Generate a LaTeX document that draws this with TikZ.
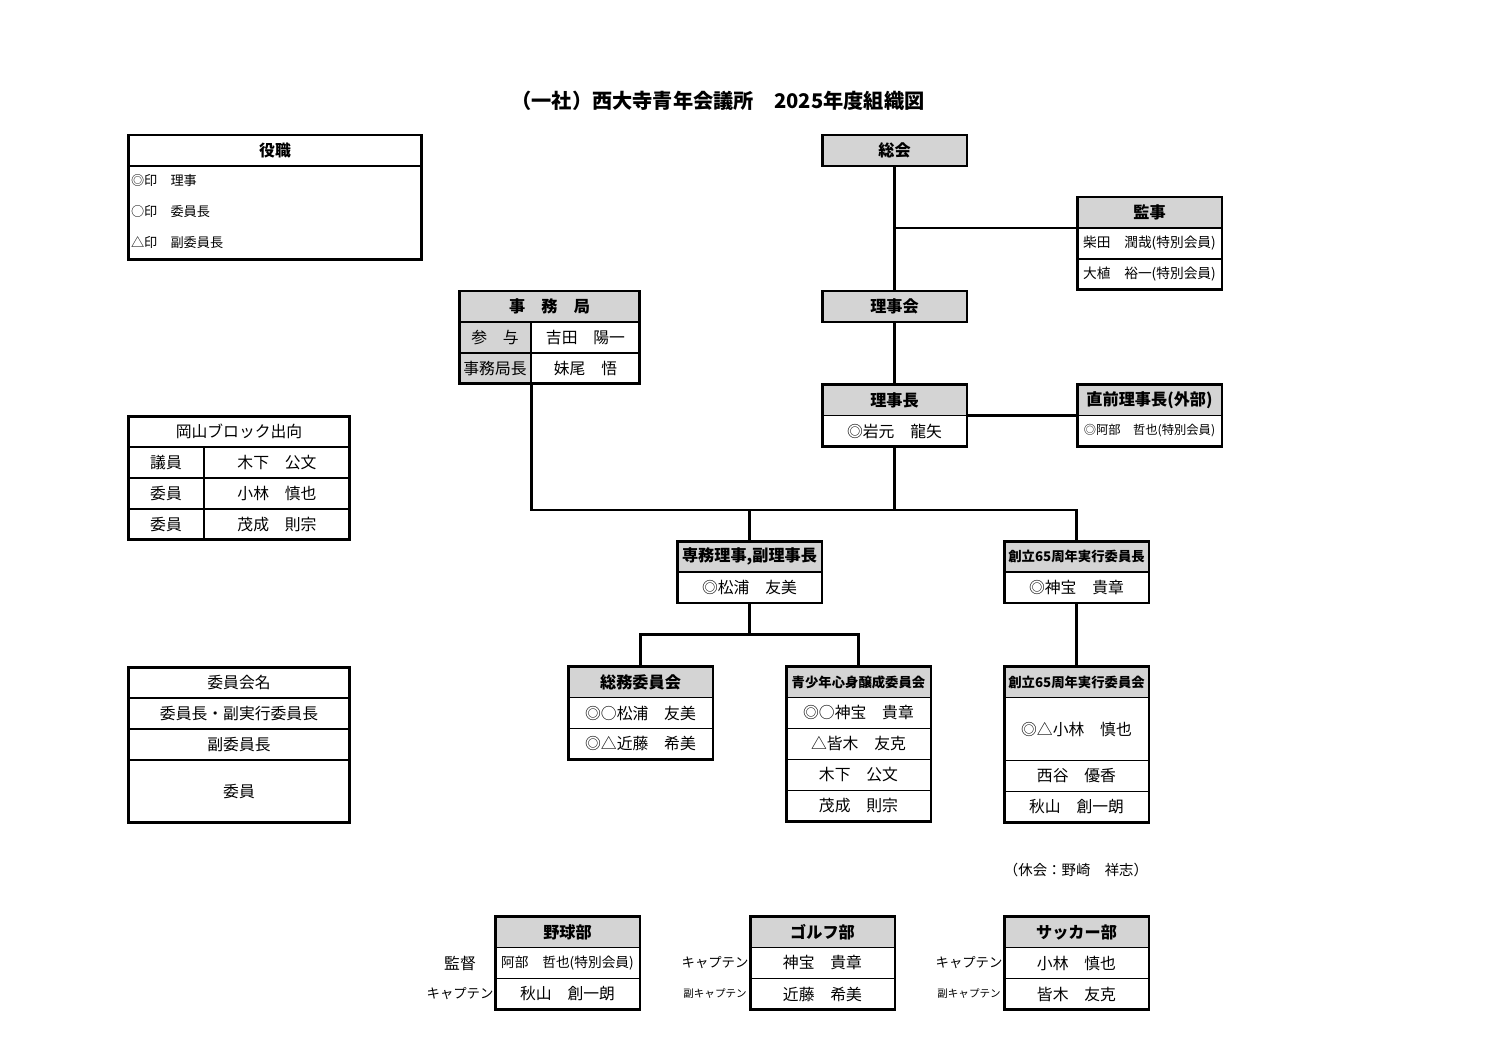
\documentclass[tikz,border=0pt]{standalone}
\usepackage{fontspec}
\setmainfont{Noto Sans CJK JP}
\usetikzlibrary{positioning}
\definecolor{hdgray}{RGB}{212,212,212}

\begin{document}
\begin{tikzpicture}[x=0.02cm, y=-0.02cm, node distance=0pt,
        every node/.style={inner sep=0pt, outer sep=0pt},
        cell/.style={draw, line width=1pt, fill=white, minimum width=2.9cm, minimum height=0.62cm, font=\fontsize{9}{10}\selectfont},
        hd/.style={cell, fill=hdgray, font=\bfseries\fontsize{9.2}{10}\selectfont},
        smalltext/.style={font=\fontsize{7.8}{9}\selectfont},
        smallhd/.style={font=\bfseries\fontsize{7.6}{9}\selectfont},
        frame/.style={draw, line width=1.7pt},
        link/.style={draw, line width=1.7pt},
        tag/.style={minimum width=1.4cm, font=\fontsize{7.6}{9}\selectfont}]
    \useasboundingbox (0,0) rectangle (1500,1061);

    \node[font=\bfseries\fontsize{11.5}{13}\selectfont] (title) at (718,101) {（一社）西大寺青年会議所　2025年度組織図};

    % legends on the left
    \node[cell, minimum width=5.88cm, font=\bfseries\fontsize{9}{10}\selectfont] (yakuH) at (275,150.5) {役職};
    \node[cell, minimum width=5.88cm, minimum height=1.88cm, below=of yakuH] (yakuB) {};
    \node[anchor=west, font=\fontsize{7.5}{8}\selectfont] (yakuA) at (131,181) {◎印　理事};
    \node[anchor=west, font=\fontsize{7.5}{8}\selectfont] (yakuC) at (131,212) {○印　委員長};
    \node[anchor=west, font=\fontsize{7.5}{8}\selectfont] (yakuD) at (131,243) {△印　副委員長};

    \node[cell, minimum width=4.44cm] (okaH) at (239,431.5) {岡山ブロック出向};
    \node[cell, minimum width=1.52cm, below right=of okaH.south west] (okaAL) {議員};
    \node[cell, minimum width=2.92cm, right=of okaAL] (okaAR) {木下　公文};
    \node[cell, minimum width=1.52cm, below=of okaAL] (okaBL) {委員};
    \node[cell, minimum width=2.92cm, right=of okaBL] (okaBR) {小林　慎也};
    \node[cell, minimum width=1.52cm, below=of okaBL] (okaCL) {委員};
    \node[cell, minimum width=2.92cm, right=of okaCL] (okaCR) {茂成　則宗};

    \node[cell, minimum width=4.44cm] (iinH) at (239,682.5) {委員会名};
    \node[cell, minimum width=4.44cm, below=of iinH] (iinA) {委員長・副実行委員長};
    \node[cell, minimum width=4.44cm, below=of iinA] (iinB) {副委員長};
    \node[cell, minimum width=4.44cm, minimum height=1.26cm, below=of iinB] (iinC) {委員};

    % main chart
    \node[hd] (soukai) at (894.5,150.5) {総会};
    \node[hd] (kanjiH) at (1149.5,212.5) {監事};
    \node[cell, smalltext, below=of kanjiH] (kanjiA) {柴田　潤哉(特別会員)};
    \node[cell, smalltext, below=of kanjiA] (kanjiB) {大植　裕一(特別会員)};
    \node[hd] (rijikai) at (894.5,306.5) {理事会};

    \node[hd, minimum width=3.62cm] (jimuH) at (549.5,306.5) {事　務　局};
    \node[cell, fill=hdgray, minimum width=1.44cm, below right=of jimuH.south west] (jimuAL) {参　与};
    \node[cell, minimum width=2.18cm, right=of jimuAL] (jimuAR) {吉田　陽一};
    \node[cell, fill=hdgray, minimum width=1.44cm, below=of jimuAL] (jimuBL) {事務局長};
    \node[cell, minimum width=2.18cm, right=of jimuBL] (jimuBR) {妹尾　悟};

    \node[hd] (rijichouH) at (894.5,400) {理事長};
    \node[cell, below=of rijichouH] (rijichouA) {◎岩元　龍矢};
    \node[hd] (zenH) at (1149.5,400) {直前理事長(外部)};
    \node[cell, font=\fontsize{7}{8}\selectfont, below=of zenH] (zenA) {◎阿部　哲也(特別会員)};

    \node[hd] (senmuH) at (749.5,556.5) {専務理事,副理事長};
    \node[cell, below=of senmuH] (senmuA) {◎松浦　友美};
    \node[hd, smallhd] (sochoH) at (1076.5,556.5) {創立65周年実行委員長};
    \node[cell, below=of sochoH] (sochoA) {◎神宝　貴章};

    \node[hd] (soumuH) at (640.5,682) {総務委員会};
    \node[cell, below=of soumuH] (soumuA) {◎○松浦　友美};
    \node[cell, below=of soumuA] (soumuB) {◎△近藤　希美};

    \node[hd, smallhd] (seiH) at (858.5,682) {青少年心身醸成委員会};
    \node[cell, below=of seiH] (seiA) {◎○神宝　貴章};
    \node[cell, below=of seiA] (seiB) {△皆木　友克};
    \node[cell, below=of seiB] (seiC) {木下　公文};
    \node[cell, below=of seiC] (seiD) {茂成　則宗};

    \node[hd, smallhd] (sokaiH) at (1076.5,682) {創立65周年実行委員会};
    \node[cell, minimum height=1.26cm, below=of sokaiH] (sokaiA) {◎△小林　慎也};
    \node[cell, below=of sokaiA] (sokaiB) {西谷　優香};
    \node[cell, below=of sokaiB] (sokaiC) {秋山　創一朗};

    \node[font=\fontsize{8.2}{9}\selectfont] (kyukai) at (1076,870) {（休会：野崎　祥志）};

    % clubs
    \node[hd] (yakyuH) at (567.5,932) {野球部};
    \node[cell, smalltext, below=of yakyuH] (yakyuA) {阿部　哲也(特別会員)};
    \node[cell, below=of yakyuA] (yakyuB) {秋山　創一朗};
    \node[tag, font=\fontsize{9}{10}\selectfont, left=of yakyuA] (yakyuTA) {監督};
    \node[tag, left=of yakyuB] (yakyuTB) {キャプテン};

    \node[hd] (golfH) at (822.5,932) {ゴルフ部};
    \node[cell, below=of golfH] (golfA) {神宝　貴章};
    \node[cell, below=of golfA] (golfB) {近藤　希美};
    \node[tag, left=of golfA] (golfTA) {キャプテン};
    \node[tag, font=\fontsize{6}{7}\selectfont, left=of golfB] (golfTB) {副キャプテン};

    \node[hd] (soccerH) at (1076.5,932) {サッカー部};
    \node[cell, below=of soccerH] (soccerA) {小林　慎也};
    \node[cell, below=of soccerA] (soccerB) {皆木　友克};
    \node[tag, left=of soccerA] (soccerTA) {キャプテン};
    \node[tag, font=\fontsize{6}{7}\selectfont, left=of soccerB] (soccerTB) {副キャプテン};

    % connectors
    \coordinate (bus) at (895,510);
    \coordinate (bus2) at (749,634);
    \draw[link] (soukai) -- (rijikai);
    \draw[link] (soukai.south |- kanjiH.south) -- (kanjiH.south west);
    \draw[link] (rijikai) -- (rijichouH);
    \draw[link] (rijichouH.south east) -- (zenH.south west);
    \draw[link] (jimuBL.south east) |- (sochoH.north |- bus) -- (sochoH.north);
    \draw[link] (rijichouA.south) -- (rijichouA.south |- bus);
    \draw[link] (senmuH.north) -- (senmuH.north |- bus);
    \draw[link] (senmuA.south) -- (senmuA.south |- bus2);
    \draw[link] (soumuH.north) |- (seiH.north |- bus2) -- (seiH.north);
    \draw[link] (sochoA) -- (sokaiH);

    \foreach \a/\b in {soukai/soukai, kanjiH/kanjiB, rijikai/rijikai, rijichouH/rijichouA, zenH/zenA,
                       jimuH/jimuBR, yakuH/yakuB, okaH/okaCR, iinH/iinC, senmuH/senmuA, sochoH/sochoA,
                       soumuH/soumuB, seiH/seiD, sokaiH/sokaiC, yakyuH/yakyuB, golfH/golfB, soccerH/soccerB}
        \draw[frame] (\a.north west) rectangle (\b.south east);
\end{tikzpicture}
\end{document}
